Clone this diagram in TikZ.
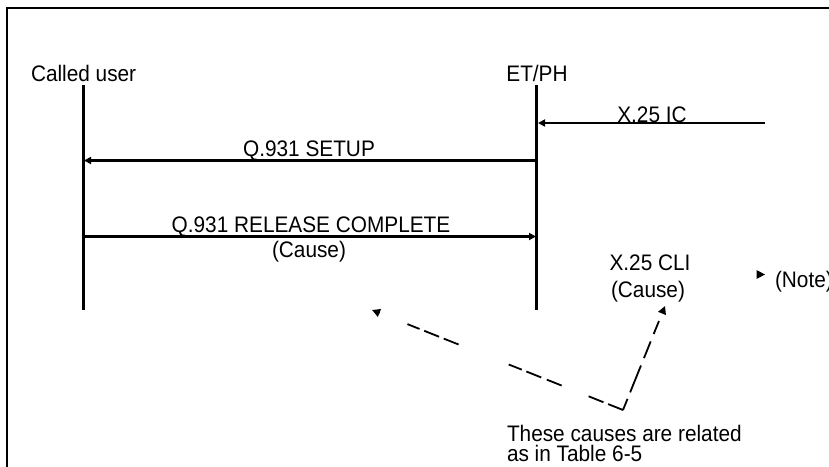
\documentclass[tikz,border=0pt]{standalone}
\usepackage{fontspec}
\usepackage{graphicx}
\setmainfont{Liberation Sans}
\usetikzlibrary{arrows.meta,calc}
\newcommand{\vt}[1]{\scalebox{1}[1.08]{#1}}
\tikzset{
  lbl/.style={inner sep=0pt, outer sep=0pt, font=\fontsize{20.8}{21}\selectfont},
  life/.style={line width=2.6pt},
  msg/.style={line width=2.6pt, -{Triangle[length=7pt,width=7pt]}},
  rel/.style={line width=1.8pt},
  reltip/.style={-{Triangle[length=8pt,width=8pt]}},
}
\begin{document}
\begin{tikzpicture}[x=1pt,y=-1pt]
\useasboundingbox (0,0) rectangle (829,466);
% frame
\coordinate (fbl) at (7,470);
\coordinate (ftl) at (7,8);
\coordinate (ftr) at (835,8);
\draw[line width=2pt] (fbl) -- (ftl) -- (ftr);

% headers
\node[lbl, anchor=base west] (cu) at (31,81) {\vt{Called user}};
\node[lbl, anchor=base] (et) at (537,81) {\vt{ET/PH}};

% lifelines
\coordinate (cutop) at (83.5,85);
\coordinate (cubot) at (83.5,310);
\coordinate (ettop) at (536.5,85);
\coordinate (etbot) at (536.5,310);
\draw[life] (cutop) -- (cubot);
\draw[life] (ettop) -- (etbot);

% X.25 IC
\coordinate (icS) at (765,123);
\coordinate (icE) at (538,123);
\draw[msg] (icS) -- (icE);
\node[lbl, anchor=base] (icL) at (652,122) {\vt{X.25 IC}};

% Q.931 SETUP
\coordinate (suS) at (536.5,160.5);
\coordinate (suE) at (84,160.5);
\draw[msg] (suS) -- (suE);
\node[lbl, anchor=base] (suL) at (309,156.5) {\vt{Q.931 SETUP}};

% Q.931 RELEASE COMPLETE
\coordinate (rcS) at (83.5,236.5);
\coordinate (rcE) at (536,236.5);
\draw[msg] (rcS) -- (rcE);
\node[lbl, anchor=base] (rcL) at (311,232.5) {\vt{Q.931 RELEASE COMPLETE}};
\node[lbl, anchor=base] (rcC) at (309,257.5) {\vt{(Cause)}};

% X.25 CLI
\node[lbl, anchor=base] (cli) at (650,270) {\vt{X.25 CLI}};
\node[lbl, anchor=base] (cliC) at (648,297.5) {\vt{(Cause)}};

% Note
\fill (756.5,270) -- (765,274.5) -- (756.5,279) -- cycle;
\node[lbl, anchor=base west] (note) at (775,287) {\vt{(Note)}};

% relation
\coordinate (apex) at (623,410);
\coordinate (tipL) at (372,310);
\coordinate (tipR) at (665,306);
\draw[rel, dash pattern={on 16pt off 5pt on 16pt off 29pt on 16pt off 6pt on 16pt off 5pt on 14pt off 54pt on 16pt off 5pt on 16pt off 5pt on 13pt off 100pt}]
  (apex) -- ($(apex)!0.93!(tipL)$);
\draw[rel, reltip] ($(apex)!0.97!(tipL)$) -- (tipL);
\draw[rel, dash pattern={on 12pt off 7pt on 29pt off 8pt on 18pt off 8pt on 14pt off 100pt}]
  (apex) -- ($(apex)!0.92!(tipR)$);
\draw[rel, reltip] ($(apex)!0.95!(tipR)$) -- (tipR);

\node[lbl, anchor=base west] (rt1) at (507,441) {\vt{These causes are related}};
\node[lbl, anchor=base west] (rt2) at (507,461) {\vt{as in Table 6-5}};
\end{tikzpicture}
\end{document}
